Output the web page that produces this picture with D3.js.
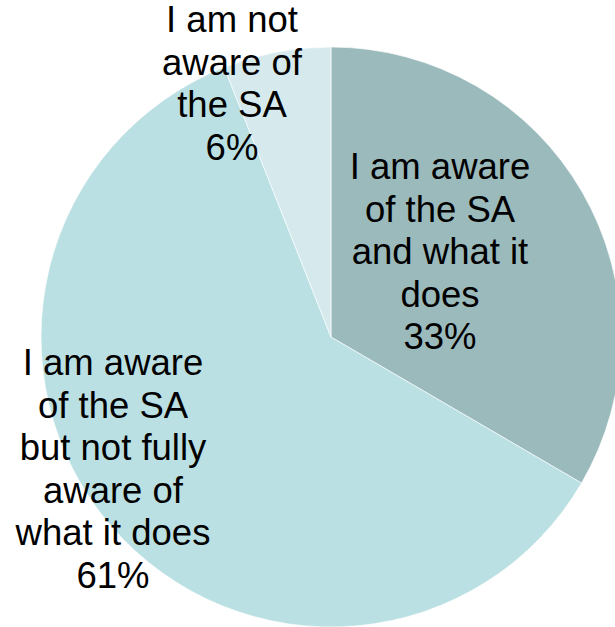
<!DOCTYPE html>
<html>
<head>
<meta charset="utf-8">
<script src="https://cdn.jsdelivr.net/npm/d3@7"></script>
<style>
  html, body { margin: 0; padding: 0; background: #fff; }
  svg { display: block; }
</style>
</head>
<body>
<svg id="chart" width="615" height="627"></svg>
<script>
// Data
const categories = [
  "I am aware of the SA and what it does",
  "I am aware of the SA but not fully aware of what it does",
  "I am not aware of the SA"
];
const values = [33.4, 60.6, 6.0];
const colors = ["#9BBABC", "#BBE0E3", "#D6EAEE"];
const labelLines = [
  ["I am aware", "of the SA", "and what it", "does"],
  ["I am aware", "of the SA", "but not fully", "aware of", "what it does"],
  ["I am not", "aware of", "the SA"]
];
// label anchor: center x and first baseline y (chart px)
const labelAnchors = [[440, 179], [113, 375], [232, 32]];

const width = 615, height = 627;
const cx = 331, cy = 337, radius = 290;
const lineH = 42.5;

const svg = d3.select("#chart");
const g = svg.append("g").attr("transform", `translate(${cx},${cy})`);

const data = categories.map((c, i) => ({ name: c, value: values[i], color: colors[i], lines: labelLines[i], anchor: labelAnchors[i] }));

const pie = d3.pie().value(d => d.value).sort(null);
const arc = d3.arc().innerRadius(0).outerRadius(radius);

g.selectAll("path.slice")
  .data(pie(data))
  .join("path")
  .attr("class", "slice")
  .attr("d", arc)
  .attr("fill", d => d.data.color)
  .attr("stroke", "#ffffff")
  .attr("stroke-opacity", 0.6)
  .attr("stroke-width", 1);

const total = d3.sum(values);
const fmt = d3.format(".0%");

const labels = svg.selectAll("text.lbl")
  .data(data)
  .join("text")
  .attr("class", "lbl")
  .attr("text-anchor", "middle")
  .attr("font-family", "Liberation Sans, Arial, sans-serif")
  .attr("font-size", 36.5)
  .attr("fill", "#000");

labels.each(function(d) {
  const t = d3.select(this);
  const lines = d.lines.concat([fmt(d.value / total)]);
  lines.forEach((ln, i) => {
    t.append("tspan")
      .attr("x", d.anchor[0])
      .attr("y", d.anchor[1] + i * lineH)
      .text(ln);
  });
});
</script>
</body>
</html>
